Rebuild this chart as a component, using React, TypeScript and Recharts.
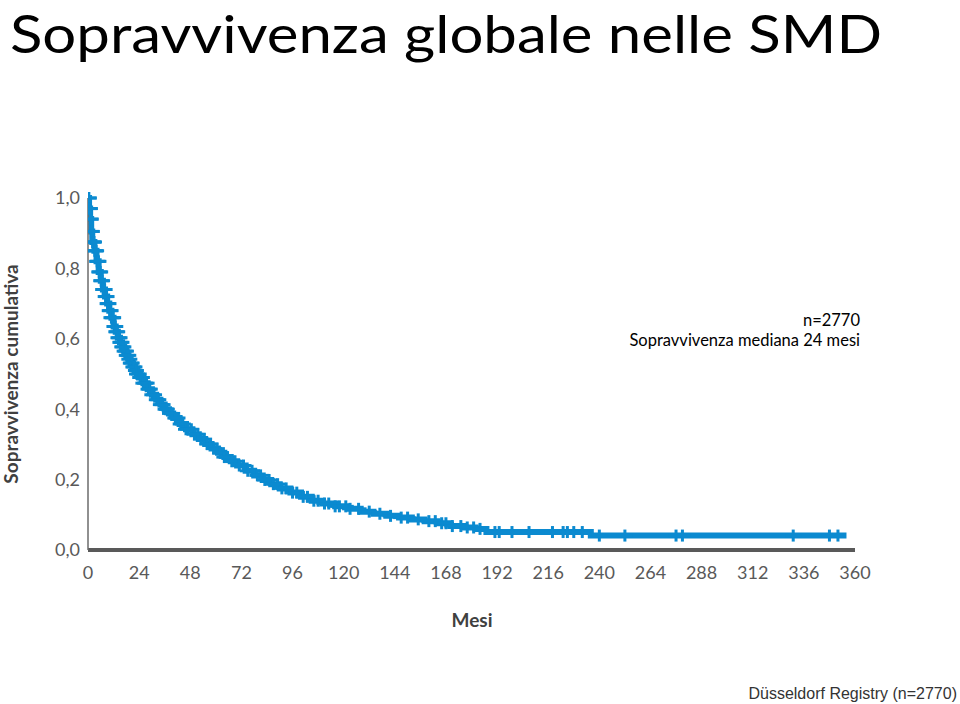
import { ComposedChart, Line, Scatter, XAxis, YAxis } from "recharts"

// Kaplan-Meier steps (months, cumulative survival)
const months = [
  0, 0.5, 1, 1.5, 2, 3, 4, 5, 6, 7, 8, 9, 10, 11, 12, 13, 14, 15, 16, 17, 18, 19, 20, 21, 22, 23, 24, 26,
  28, 30, 32, 34, 36, 38, 40, 43, 46, 49, 52, 55, 58, 61, 64, 67, 70, 74, 78, 82, 86, 90, 95, 100, 105,
  110, 116, 122, 128, 134, 140, 146, 152, 158, 164, 170, 176, 182, 187, 236, 356,
]
const survival = [
  1.0, 0.97, 0.94, 0.905, 0.875, 0.85, 0.82, 0.79, 0.765, 0.74, 0.72, 0.7, 0.68, 0.66, 0.635, 0.62, 0.603,
  0.59, 0.577, 0.565, 0.553, 0.542, 0.531, 0.52, 0.51, 0.5, 0.49, 0.474, 0.457, 0.441, 0.427, 0.413, 0.4,
  0.388, 0.375, 0.358, 0.343, 0.329, 0.315, 0.301, 0.288, 0.276, 0.264, 0.252, 0.24, 0.225, 0.212, 0.199,
  0.187, 0.175, 0.163, 0.151, 0.14, 0.132, 0.124, 0.117, 0.109, 0.103, 0.097, 0.092, 0.087, 0.082, 0.076,
  0.068, 0.064, 0.06, 0.051, 0.041, 0.041,
]
// censored cases (months)
const censorMonths = [
  0.2, 0.4, 0.7, 0.9, 1.1, 1.3, 1.6, 1.8, 2.2, 2.5, 2.8, 3.2, 3.5, 3.8, 4.3, 4.6, 4.9, 5.3, 5.7, 6.2,
  6.6, 7.1, 7.5, 7.8, 8.3, 8.7, 9.2, 9.6, 10.2, 10.6, 11, 11.5, 11.8, 12.4, 12.8, 13.3, 13.7, 14.3, 14.8,
  15.2, 15.7, 16.1, 16.6, 17.2, 17.8, 18.2, 18.9, 19.4, 20.1, 20.5, 21.3, 21.8, 22.5, 23, 23.8, 24.5,
  25.3, 26, 26.8, 27.5, 28.4, 29, 30.2, 31, 32.3, 33, 34.2, 35, 36.4, 37, 38.5, 39.5, 41, 42, 43.5, 44.5,
  46, 47, 48.5, 50, 51.5, 53, 54.5, 56, 57.5, 59, 60.5, 62, 64, 65.5, 67.5, 69, 71, 73, 75, 77, 79.5, 81,
  83, 85, 87, 89, 91, 93, 96, 98, 101, 103, 106, 108, 111, 113, 116, 118, 121, 123, 127, 132, 137, 142,
  147, 150, 155, 160, 163, 166, 168, 171, 175, 178, 181, 184, 191, 193, 199, 207, 218, 223, 225, 228,
  232, 240, 252, 276, 279, 331, 348, 352,
]
const xTicks = [0, 24, 48, 72, 96, 120, 144, 168, 192, 216, 240, 264, 288, 312, 336, 360]
const yTicks = [0, 0.2, 0.4, 0.6, 0.8, 1]

const curve = months.map((m, i) => ({ m, s: survival[i] }))

function survivalAt(t: number) {
  let s = survival[0]
  for (let i = 0; i < months.length; i++) {
    if (months[i] <= t) s = survival[i]
  }
  return s
}

const censored = censorMonths.map((m) => ({ m, s: survivalAt(m) }))

const BLUE = "#0b8ad0"
const GREY = "#595959"
const FONT = "Lato, 'Open Sans', sans-serif"

function CensorMark(props: any) {
  const { cx, cy } = props
  return (
    <g stroke={BLUE} strokeWidth={3}>
      <line x1={cx} x2={cx} y1={cy - 6} y2={cy + 6} />
      <line x1={cx - 8} x2={cx + 8} y1={cy} y2={cy} />
    </g>
  )
}

export default function App() {
  return (
    <div style={{ position: "absolute", left: 0, top: 0, width: 960, height: 704, background: "#fff" }}>
      <ComposedChart
        width={960}
        height={704}
        margin={{ top: 198, right: 105, bottom: 124, left: 28 }}
      >
        <XAxis
          type="number"
          dataKey="m"
          domain={[0, 360]}
          ticks={xTicks}
          interval={0}
          allowDataOverflow
          tickLine={false}
          tickMargin={10}
          height={30}
          axisLine={{ stroke: GREY, strokeWidth: 4 }}
          tick={{ fill: GREY, fontSize: 18, fontFamily: FONT }}
        />
        <YAxis
          type="number"
          domain={[0, 1]}
          ticks={yTicks}
          interval={0}
          width={60}
          tickLine={false}
          axisLine={{ stroke: "#6b6b6b", strokeWidth: 1.5 }}
          tick={{ fill: GREY, fontSize: 18, fontFamily: FONT }}
          tickFormatter={(v: number) => v.toFixed(1).replace(".", ",")}
        />
        <Line
          data={curve}
          dataKey="s"
          type="stepAfter"
          stroke={BLUE}
          strokeWidth={6}
          dot={false}
          activeDot={false}
          isAnimationActive={false}
        />
        <Scatter data={censored} dataKey="s" shape={CensorMark} isAnimationActive={false} />
      </ComposedChart>

      <svg
        width={960}
        height={704}
        style={{ position: "absolute", left: 0, top: 0, pointerEvents: "none" }}
      >
        <text
          x={10}
          y={53}
          fontFamily={FONT}
          fontSize={53}
          fill="#000"
          textLength={872}
          lengthAdjust="spacingAndGlyphs"
        >
          Sopravvivenza globale nelle SMD
        </text>
        <text
          x={18}
          y={374}
          transform="rotate(-90 18 374)"
          textAnchor="middle"
          fontFamily={FONT}
          fontWeight="bold"
          fontSize={19}
          fill="#404040"
        >
          Sopravvivenza cumulativa
        </text>
        <text x={472} y={627} textAnchor="middle" fontFamily={FONT} fontWeight="bold" fontSize={19} fill="#404040">
          Mesi
        </text>
        <text x={860} y={326} textAnchor="end" fontFamily={FONT} fontSize={16.5} fill="#000">
          n=2770
        </text>
        <text x={860} y={346} textAnchor="end" fontFamily={FONT} fontSize={16.5} fill="#000">
          Sopravvivenza mediana 24 mesi
        </text>
        <text
          x={957}
          y={699}
          textAnchor="end"
          fontFamily="'Liberation Sans', Arial, sans-serif"
          fontSize={16}
          fill="#333"
        >
          Düsseldorf Registry (n=2770)
        </text>
      </svg>
    </div>
  )
}
